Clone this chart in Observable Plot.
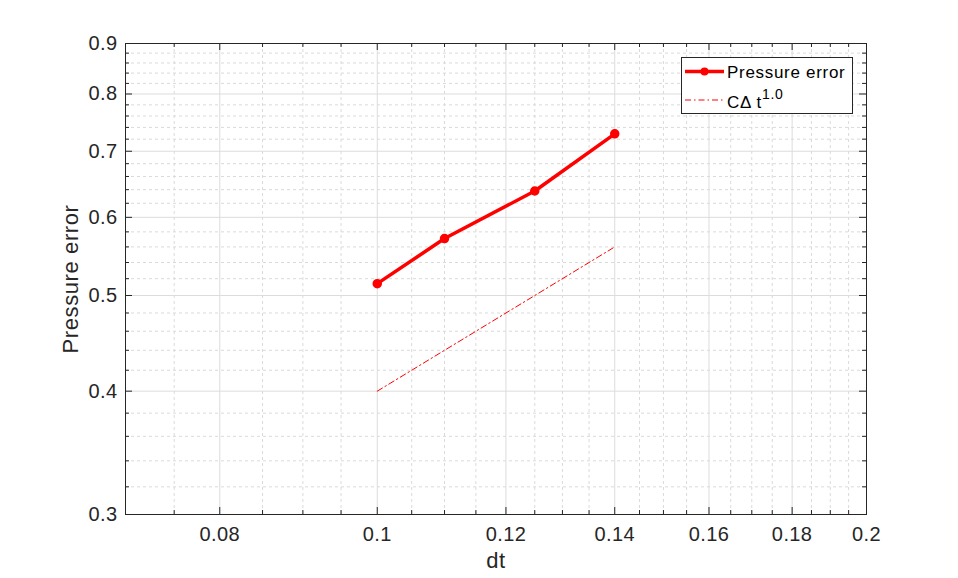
<!DOCTYPE html>
<html>
<head>
<meta charset="utf-8">
<script src="https://cdn.jsdelivr.net/npm/d3@7"></script>
<script src="https://cdn.jsdelivr.net/npm/@observablehq/plot@0.6"></script>
<style>
  html, body { margin: 0; padding: 0; background: #fff; }
  #wrap { position: relative; width: 958px; height: 578px; font-family: "Liberation Sans", Arial, Helvetica, sans-serif; }
  #chart svg text { letter-spacing: 0.4px; }
  #chart svg text.lbl { letter-spacing: 0.6px; }
  #legend { position: absolute; left: 681px; top: 57px; }
  #legend text { letter-spacing: 0.7px; }
</style>
</head>
<body>
<div id="wrap">
  <div id="chart"></div>
</div>
<script>
// ---- data ----
const dt = [0.1, 0.11, 0.125, 0.14];
const pressureError = [0.514, 0.571, 0.638, 0.729];
const refDt = [0.1, 0.14];
const refError = [0.4, 0.56];
const seriesNames = ["Pressure error", "CΔ t", "1.0"];

// ---- ticks ----
const xMajor = [0.08, 0.1, 0.12, 0.14, 0.16, 0.18, 0.2];
const xMinor = [0.075, 0.085, 0.09, 0.095, 0.105, 0.11, 0.115, 0.125, 0.13, 0.135, 0.145, 0.15, 0.155, 0.165, 0.17, 0.175, 0.185, 0.19, 0.195];
const yMajor = [0.3, 0.4, 0.5, 0.6, 0.7, 0.8, 0.9];
const yMinor = [0.32, 0.34, 0.36, 0.38, 0.42, 0.44, 0.46, 0.48, 0.52, 0.54, 0.56, 0.58, 0.62, 0.64, 0.66, 0.68, 0.72, 0.74, 0.76, 0.78, 0.82, 0.84, 0.86, 0.88];
const xLabel = "dt";
const yLabel = "Pressure error";

const main = dt.map((d, i) => ({dt: d, err: pressureError[i]}));
const ref = refDt.map((d, i) => ({dt: d, err: refError[i]}));

const W = 958, H = 578;
const mt = 43, mb = 64, ml = 125, mr = 92;
const plotH = H - mt - mb, plotW = W - ml - mr;
const axisColor = "#262626";
const font = '"Liberation Sans", Arial, Helvetica, sans-serif';

const chart = Plot.plot({
  width: W, height: H,
  marginTop: mt, marginBottom: mb, marginLeft: ml, marginRight: mr,
  style: {fontFamily: font, background: "#fff", color: axisColor},
  x: {type: "log", domain: [0.07, 0.2]},
  y: {type: "log", domain: [0.3, 0.9]},
  marks: [
    // minor grid
    Plot.ruleX(xMinor, {x: d => d, stroke: "#dadada", strokeDasharray: "3,3", strokeWidth: 1}),
    Plot.ruleY(yMinor, {y: d => d, stroke: "#dadada", strokeDasharray: "3,3", strokeWidth: 1}),
    // major grid
    Plot.ruleX(xMajor, {x: d => d, stroke: "#dcdcdc", strokeWidth: 1}),
    Plot.ruleY(yMajor, {y: d => d, stroke: "#dcdcdc", strokeWidth: 1}),
    // reference line
    Plot.line(ref, {x: "dt", y: "err", stroke: "#ff0000", strokeWidth: 1, strokeDasharray: "6,3,1.5,3"}),
    // main series
    Plot.line(main, {x: "dt", y: "err", stroke: "#ff0000", strokeWidth: 3.5}),
    Plot.dot(main, {x: "dt", y: "err", r: 4, fill: "#ff0000", stroke: "#ff0000"}),
    // inward ticks (bottom/top)
    Plot.tickX(xMajor, {x: d => d, insetTop: plotH - 7, stroke: axisColor}),
    Plot.tickX(xMajor, {x: d => d, insetBottom: plotH - 7, stroke: axisColor}),
    Plot.tickX(xMinor, {x: d => d, insetTop: plotH - 4, stroke: axisColor}),
    Plot.tickX(xMinor, {x: d => d, insetBottom: plotH - 4, stroke: axisColor}),
    // inward ticks (left/right)
    Plot.tickY(yMajor, {y: d => d, insetRight: plotW - 7, stroke: axisColor}),
    Plot.tickY(yMajor, {y: d => d, insetLeft: plotW - 7, stroke: axisColor}),
    Plot.tickY(yMinor, {y: d => d, insetRight: plotW - 4, stroke: axisColor}),
    Plot.tickY(yMinor, {y: d => d, insetLeft: plotW - 4, stroke: axisColor}),
    Plot.frame({stroke: axisColor, strokeWidth: 1}),
    // axes labels (tick text only)
    Plot.axisX({ticks: xMajor, tickSize: 0, tickPadding: 12, tickFormat: d => String(d), label: null, fontSize: 20, fill: axisColor}),
    Plot.axisY({ticks: yMajor, tickSize: 0, tickPadding: 8, tickFormat: d => String(d), label: null, fontSize: 20, fill: axisColor}),
    // axis titles
    Plot.text([xLabel], {text: d => d, frameAnchor: "bottom", textAnchor: "middle", dy: 53, fontSize: 22, fill: axisColor, className: "lbl"}),
    Plot.text([yLabel], {text: d => d, frameAnchor: "left", textAnchor: "middle", dx: -55, rotate: -90, fontSize: 22, fill: axisColor, className: "lbl"})
  ]
});
document.getElementById("chart").appendChild(chart);
chart.querySelectorAll("g.lbl text, g[class*='lbl'] text").forEach(t => t.setAttribute("class", "lbl"));

// ---- legend (overlay with inline SVG) ----
const ns = "http://www.w3.org/2000/svg";
const lg = document.createElementNS(ns, "svg");
lg.setAttribute("id", "legend");
lg.setAttribute("width", 173);
lg.setAttribute("height", 58);
lg.innerHTML = `
  <rect x="0.5" y="0.5" width="171" height="56" fill="#fff" stroke="${axisColor}" stroke-width="1"/>
  <line x1="4" x2="43" y1="14.5" y2="14.5" stroke="#ff0000" stroke-width="3.5"/>
  <circle cx="23.5" cy="14.5" r="4" fill="#ff0000"/>
  <text x="46" y="21" font-size="17" fill="#000" font-family='${font}'>${seriesNames[0]}</text>
  <line x1="4" x2="43" y1="43" y2="43" stroke="#ff0000" stroke-width="1" stroke-dasharray="6,3,1.5,3"/>
  <text x="46" y="51" font-size="17" fill="#000" font-family='${font}'>${seriesNames[1]}<tspan dy="-9" font-size="14">${seriesNames[2]}</tspan></text>
`;
document.getElementById("wrap").appendChild(lg);
</script>
</body>
</html>
